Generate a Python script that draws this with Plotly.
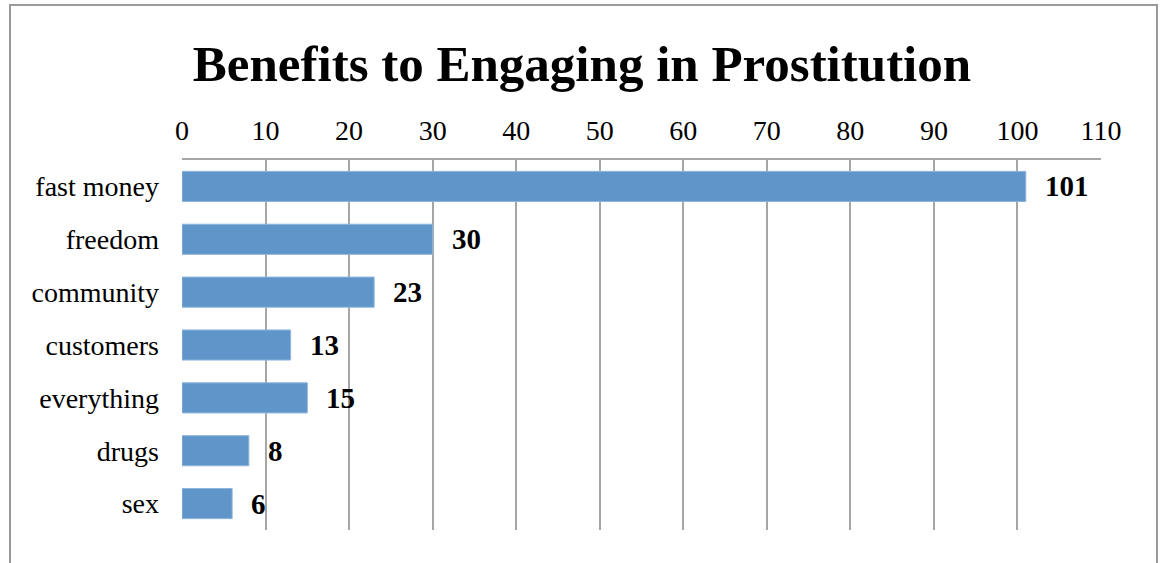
import plotly.graph_objects as go

categories = ["fast money", "freedom", "community", "customers", "everything", "drugs", "sex"]
values = [101, 30, 23, 13, 15, 8, 6]
tick_values = [0, 10, 20, 30, 40, 50, 60, 70, 80, 90, 100, 110]
title_text = "Benefits to Engaging in Prostitution"

FONT = "Liberation Serif"
GRID = "#a6a6a6"

W, H = 1163, 563
L, T, R, B = 182, 160, W - 1101, H - 530
PW = W - L - R
PH = H - T - B

fig = go.Figure()
fig.add_trace(go.Bar(
    y=categories,
    x=values,
    orientation="h",
    marker=dict(color="#5f95c9", line=dict(color="#8fb5dc", width=1)),
    width=0.57,
    hoverinfo="skip",
))

for c, v in zip(categories, values):
    fig.add_annotation(
        x=v, y=c, xref="x", yref="y", text=f"<b>{v}</b>", showarrow=False,
        xanchor="left", xshift=17, font=dict(family=FONT, size=29, color="#000"),
    )

# outer chart frame
fig.add_shape(type="rect", xref="paper", yref="paper",
              x0=(10 - L) / PW, x1=(1157 - L) / PW,
              y0=-0.3, y1=(T + PH - 5) / PH,
              line=dict(color="#9a9a9a", width=2), layer="below")

fig.update_layout(
    width=W, height=H,
    margin=dict(l=L, r=R, t=T, b=B, pad=0),
    paper_bgcolor="white", plot_bgcolor="white",
    showlegend=False,
    title=dict(text=f"<b>{title_text}</b>", x=582 / W, xanchor="center", xref="container",
               y=1 - 63 / H, yanchor="middle", yref="container",
               font=dict(family=FONT, size=51, color="#000")),
    xaxis=dict(side="top", range=[0, 110], tickvals=tick_values,
               showgrid=True, gridcolor=GRID, gridwidth=1.5,
               showline=True, linecolor=GRID, linewidth=1.5,
               zeroline=False, ticks="", ticklabelstandoff=7,
               tickfont=dict(family=FONT, size=28, color="#000"),
               fixedrange=True),
    yaxis=dict(categoryorder="array", categoryarray=categories[::-1],
               showgrid=False, zeroline=False, showline=False, ticks="",
               ticklabelstandoff=22,
               tickfont=dict(family=FONT, size=28, color="#000"),
               fixedrange=True),
)

fig.write_html("out.html", config={"displayModeBar": False},
               post_script="document.body.style.margin='0';document.body.style.overflow='hidden';")
